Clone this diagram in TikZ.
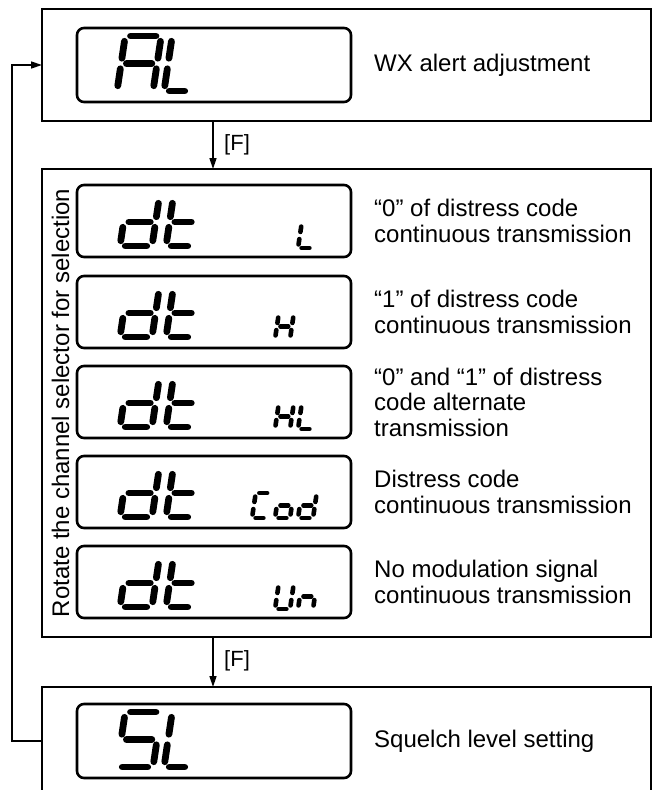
\documentclass[tikz,border=0pt]{standalone}
\usepackage{fontspec}
\setmainfont{Liberation Sans}
\usetikzlibrary{arrows.meta}

\newcommand\sdig[6]{%
  \begin{scope}[shift={(#1,#2)}, xslant=0.15, line width=#5pt, line cap=round]
    \def\dW{#3}\def\dH{#4}\pgfmathsetmacro\dHh{#4/2}\pgfmathsetmacro\gp{#5*0.78}%
    #6
  \end{scope}}
\newcommand\segA{\draw ({\gp},{-\dH}) -- ({\dW-\gp},{-\dH});}
\newcommand\segB{\draw ({\dW},{-\dH+\gp}) -- ({\dW},{-\dHh-\gp});}
\newcommand\segC{\draw ({\dW},{-\dHh+\gp}) -- ({\dW},{-\gp});}
\newcommand\segD{\draw ({\gp},0) -- ({\dW-\gp},0);}
\newcommand\segE{\draw (0,{-\dHh+\gp}) -- (0,{-\gp});}
\newcommand\segF{\draw (0,{-\dH+\gp}) -- (0,{-\dHh-\gp});}
\newcommand\segG{\draw ({\gp},{-\dHh}) -- ({\dW-\gp},{-\dHh});}

\tikzset{
  panel/.style={draw, line width=1.5pt, anchor=north west, inner sep=0pt, outer sep=0pt, minimum width=609pt},
  lcd/.style={draw, line width=2.6pt, rounded corners=7pt, anchor=north west, inner sep=0pt, outer sep=0pt, minimum width=274pt, minimum height=72pt},
  flow/.style={line width=1.5pt, -{Triangle[length=11pt,width=7pt]}},
  desc/.style={anchor=west, align=left, inner sep=0pt, font=\fontsize{24}{25.5}\selectfont},
  flabel/.style={anchor=west, inner sep=0pt, font=\fontsize{22}{24}\selectfont},
}

\begin{document}
\begin{tikzpicture}[x=1pt, y=-1pt]
\useasboundingbox (0,0) rectangle (657,790);
\clip (0,0) rectangle (657,790);

% panels
\node[panel, minimum height=112pt] (top) at (42,9) {};
\node[panel, minimum height=468pt] (mid) at (42,169) {};
\node[panel, minimum height=130pt] (bot) at (42,687) {};

% LCD frames
\node[lcd, minimum height=74pt] (al) at (77,28) {};
\node[lcd] (r1) at (77,185) {};
\node[lcd] (r2) at (77,276) {};
\node[lcd] (r3) at (77,366) {};
\node[lcd] (r4) at (77,456) {};
\node[lcd] (r5) at (77,546) {};
\node[lcd, minimum height=74pt] (sl) at (77,704) {};

% AL
\sdig{117}{91}{36}{55}{6.8}{\segA\segB\segC\segE\segF\segG}
\sdig{164}{91}{26}{55}{6.8}{\segD\segE\segF}
% dt rows
\foreach \T in {185,276,366,456,546}{
  \pgfmathsetmacro\yb{\T+61}
  \sdig{120}{\yb}{32}{48}{6.8}{\segB\segC\segD\segE\segG}
  \sdig{166}{\yb}{27}{48}{6.8}{\segD\segE\segF\segG}
}
% small characters
\sdig{298}{248}{15}{25}{4.6}{\segD\segE\segF}
\sdig{275}{339}{15}{25}{4.6}{\segB\segC\segE\segF\segG}
\sdig{275}{429}{15}{25}{4.6}{\segB\segC\segE\segF\segG}
\sdig{298}{429}{15}{25}{4.6}{\segD\segE\segF}
\sdig{252}{518}{15}{25}{4.6}{\segA\segD\segE\segF}
\sdig{275}{518}{15}{25}{4.6}{\segC\segD\segE\segG}
\sdig{298}{518}{15}{25}{4.6}{\segB\segC\segD\segE\segG}
\sdig{275}{609}{15}{25}{4.6}{\segB\segC\segD\segE\segF}
\sdig{298}{609}{15}{25}{4.6}{\segC\segE\segG}
% SL
\sdig{117}{767}{36}{55}{6.8}{\segA\segF\segG\segC\segD}
\sdig{164}{767}{26}{55}{6.8}{\segD\segE\segF}

% descriptions
\node[desc] (tal) at (374,65) {WX alert adjustment};
\node[desc] (t1) at (374,221) {“0” of distress code\\continuous transmission};
\node[desc] (t2) at (374,312) {“1” of distress code\\continuous transmission};
\node[desc] (t3) at (374,402) {“0” and “1” of distress\\code alternate\\transmission};
\node[desc] (t4) at (374,492) {Distress code\\continuous transmission};
\node[desc] (t5) at (374,582) {No modulation signal\\continuous transmission};
\node[desc] (tsl) at (374,741) {Squelch level setting};

\node[rotate=90, anchor=base, inner sep=0pt, font=\fontsize{24}{25.5}\selectfont] (rot) at (69,403) {Rotate the channel selector for selection};

% connectors
\coordinate (fx) at (213,0);
\coordinate (loopx) at (12,0);
\draw[flow] (top.south -| fx) -- (mid.north -| fx);
\draw[flow] (mid.south -| fx) -- (bot.north -| fx);
\node[flabel] (f1) at (224,145) {[F]};
\node[flabel] (f2) at (224,661) {[F]};
\draw[flow] (sl.center -| bot.west) -- (sl.center -| loopx) |- (al.center -| top.west);
\end{tikzpicture}
\end{document}
